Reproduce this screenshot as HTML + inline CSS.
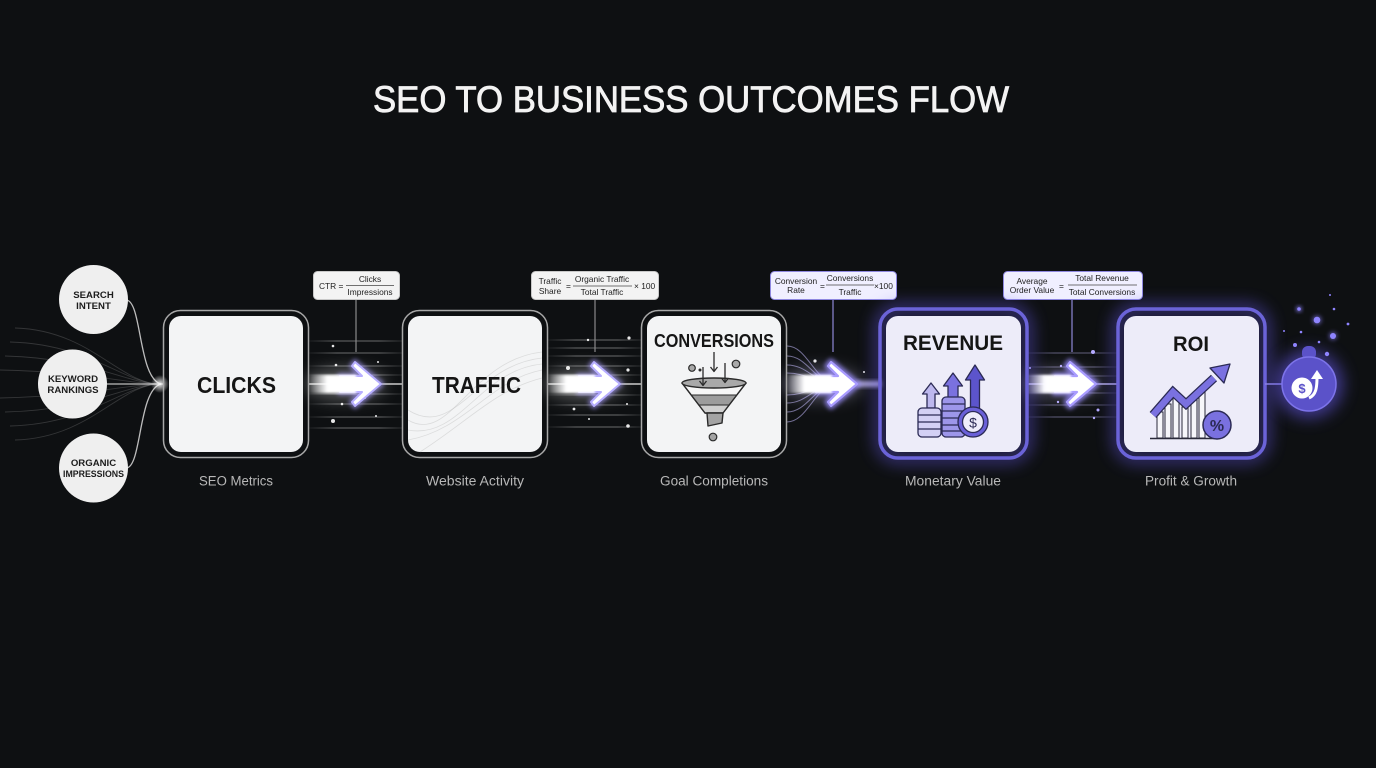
<!DOCTYPE html>
<html><head><meta charset="utf-8">
<style>
html,body{margin:0;padding:0;background:#0e1012;width:1376px;height:768px;overflow:hidden}
svg{display:block}
text{font-family:"Liberation Sans",Arial,sans-serif}
</style></head><body>
<svg width="1376" height="768" viewBox="0 0 1376 768" xmlns="http://www.w3.org/2000/svg">
<defs>
 <linearGradient id="lf" x1="0" x2="1" y1="0" y2="0">
  <stop offset="0" stop-color="#fff" stop-opacity="0.05"/>
  <stop offset="0.3" stop-color="#fff" stop-opacity="0.38"/>
  <stop offset="0.75" stop-color="#fff" stop-opacity="0.38"/>
  <stop offset="1" stop-color="#fff" stop-opacity="0.1"/>
 </linearGradient>
 <linearGradient id="lp" x1="0" x2="1" y1="0" y2="0">
  <stop offset="0" stop-color="#b8b0ff" stop-opacity="0.1"/>
  <stop offset="0.3" stop-color="#c8c0ff" stop-opacity="0.45"/>
  <stop offset="0.75" stop-color="#c8c0ff" stop-opacity="0.45"/>
  <stop offset="1" stop-color="#b8b0ff" stop-opacity="0.1"/>
 </linearGradient>
 <linearGradient id="fl" x1="0" x2="1" y1="0" y2="0">
  <stop offset="0" stop-color="#fff" stop-opacity="0"/>
  <stop offset="0.4" stop-color="#fff" stop-opacity="1"/>
  <stop offset="1" stop-color="#fff" stop-opacity="1"/>
 </linearGradient>
 <radialGradient id="rg">
  <stop offset="0" stop-color="#fff" stop-opacity="0.9"/>
  <stop offset="1" stop-color="#fff" stop-opacity="0"/>
 </radialGradient>
 <filter id="b1" x="-50%" y="-50%" width="200%" height="200%"><feGaussianBlur stdDeviation="1"/></filter>
 <filter id="b2" x="-50%" y="-50%" width="200%" height="200%"><feGaussianBlur stdDeviation="2"/></filter>
 <filter id="b8" x="-50%" y="-50%" width="200%" height="200%"><feGaussianBlur stdDeviation="8"/></filter>
</defs>

<rect width="1376" height="768" fill="#0e1012"/>

<!-- Title -->
<text x="373" y="112" font-size="37" fill="#f3f3f3" stroke="#f3f3f3" stroke-width="0.8" textLength="636" lengthAdjust="spacingAndGlyphs">SEO TO BUSINESS OUTCOMES FLOW</text>

<!-- Left faint converging lines -->
<g fill="none" stroke="#cfcfcf" stroke-opacity="0.2" stroke-width="0.9">
 <path d="M15,328 C90,330 120,384 160,384"/>
 <path d="M10,342 C90,344 125,384 160,384"/>
 <path d="M5,356 C90,358 128,384 160,384"/>
 <path d="M0,370 C90,372 130,384 160,384"/>
 <path d="M0,398 C90,396 130,384 160,384"/>
 <path d="M5,412 C90,410 128,384 160,384"/>
 <path d="M10,426 C90,424 125,384 160,384"/>
 <path d="M15,440 C90,438 120,384 160,384"/>
</g>
<!-- circle connectors -->
<g fill="none" stroke="#bdbdbd" stroke-width="1.3">
 <path d="M126,300 C142,300 138,378 161,384"/>
 <path d="M126,468 C142,468 138,390 161,384"/>
 <path d="M107,384 L164,384"/>
</g>
<circle cx="160" cy="384" r="9" fill="url(#rg)"/>

<!-- Left circles -->
<g fill="#efefef">
 <circle cx="93.5" cy="299.5" r="34.5"/>
 <circle cx="72.5" cy="384" r="34.5"/>
 <circle cx="93.5" cy="468" r="34.5"/>
</g>
<g font-size="9.6" font-weight="bold" fill="#1c1c1c" text-anchor="middle">
 <text x="93.5" y="298">SEARCH</text>
 <text x="93.5" y="309">INTENT</text>
 <text x="73" y="382">KEYWORD</text>
 <text x="73" y="393">RANKINGS</text>
 <text x="93.5" y="466">ORGANIC</text>
</g>
<text x="63" y="477" font-size="9.6" font-weight="bold" fill="#1c1c1c" textLength="61" lengthAdjust="spacingAndGlyphs">IMPRESSIONS</text>

<!-- Gap 1 streak lines (309-402) -->
<g>
 <rect x="309" y="340.5" width="93" height="1" fill="url(#lf)"/>
 <rect x="309" y="352.5" width="93" height="1" fill="url(#lf)"/>
 <rect x="309" y="365.5" width="93" height="1" fill="url(#lf)"/>
 <rect x="309" y="374.5" width="93" height="1" fill="url(#lf)"/>
 <rect x="309" y="393.5" width="93" height="1" fill="url(#lf)"/>
 <rect x="309" y="403.5" width="93" height="1" fill="url(#lf)"/>
 <rect x="309" y="416.5" width="93" height="1" fill="url(#lf)"/>
 <rect x="309" y="427.5" width="93" height="1" fill="url(#lf)"/>
 <rect x="309" y="383.3" width="93" height="1.4" fill="#d8d8d8"/>
</g>
<!-- Gap 2 streak lines (548-641) -->
<g>
 <rect x="548" y="339.5" width="93" height="1" fill="url(#lf)"/>
 <rect x="548" y="347.5" width="93" height="1" fill="url(#lf)"/>
 <rect x="548" y="355.5" width="93" height="1" fill="url(#lf)"/>
 <rect x="548" y="365.5" width="93" height="1" fill="url(#lf)"/>
 <rect x="548" y="374.5" width="93" height="1" fill="url(#lf)"/>
 <rect x="548" y="394.5" width="93" height="1" fill="url(#lf)"/>
 <rect x="548" y="404.5" width="93" height="1" fill="url(#lf)"/>
 <rect x="548" y="414.5" width="93" height="1" fill="url(#lf)"/>
 <rect x="548" y="426.5" width="93" height="1" fill="url(#lf)"/>
 <rect x="548" y="383.3" width="93" height="1.4" fill="#d8d8d8"/>
</g>
<!-- Gap 3 fan (787-879) -->
<g fill="none" stroke="#c4bbff" stroke-opacity="0.55" stroke-width="1">
 <path d="M787,346 C808,346 815,384 838,384"/>
 <path d="M787,356 C808,356 815,384 838,384"/>
 <path d="M787,365 C808,365 815,384 838,384"/>
 <path d="M787,373 C808,373 815,384 838,384"/>
 <path d="M787,395 C808,395 815,384 838,384"/>
 <path d="M787,403 C808,403 815,384 838,384"/>
 <path d="M787,412 C808,412 815,384 838,384"/>
 <path d="M787,422 C808,422 815,384 838,384"/>
</g>
<!-- Gap 4 lines (1027-1117) -->
<g>
 <rect x="1027" y="352.5" width="90" height="1" fill="url(#lp)"/>
 <rect x="1027" y="366.5" width="90" height="1" fill="url(#lp)"/>
 <rect x="1027" y="375.5" width="90" height="1" fill="url(#lp)"/>
 <rect x="1027" y="392.5" width="90" height="1" fill="url(#lp)"/>
 <rect x="1027" y="404.5" width="90" height="1" fill="url(#lp)"/>
 <rect x="1027" y="416.5" width="90" height="1" fill="url(#lp)"/>
 <rect x="1027" y="383.3" width="90" height="1.4" fill="#b9b2ee"/>
</g>

<!-- sparkle dots -->
<g fill="#fff" opacity="0.9">
 <circle cx="333" cy="346" r="1.3"/><circle cx="336" cy="365" r="1.3"/><circle cx="342" cy="404" r="1.3"/>
 <circle cx="333" cy="421" r="2"/><circle cx="378" cy="362" r="1"/><circle cx="376" cy="416" r="1"/>
 <circle cx="365" cy="398" r="1"/>
 <circle cx="568" cy="368" r="2"/><circle cx="588" cy="340" r="1.2"/><circle cx="574" cy="409" r="1.4"/>
 <circle cx="629" cy="338" r="1.6"/><circle cx="628" cy="370" r="1.6"/><circle cx="628" cy="426" r="1.8"/>
 <circle cx="589" cy="419" r="1"/><circle cx="627" cy="404" r="1"/>
 <circle cx="815" cy="361" r="1.6"/><circle cx="864" cy="372" r="1"/>
</g>
<g fill="#b5aaff">
 <circle cx="1093" cy="352" r="2"/><circle cx="1061" cy="366" r="1.2"/><circle cx="1058" cy="402" r="1.2"/>
 <circle cx="1098" cy="410" r="1.5"/><circle cx="1094" cy="418" r="1.2"/><circle cx="1030" cy="368" r="1"/>
</g>

<!-- Glow halos -->
<g>
 <ellipse cx="345" cy="384" rx="40" ry="16" fill="#fff" opacity="0.3" filter="url(#b8)"/>
 <ellipse cx="584" cy="384" rx="40" ry="16" fill="#fff" opacity="0.3" filter="url(#b8)"/>
 <ellipse cx="822" cy="384" rx="40" ry="16" fill="#d8d0ff" opacity="0.35" filter="url(#b8)"/>
 <rect x="855" y="381" width="26" height="6" fill="#c8c0ff" opacity="0.8" filter="url(#b2)"/>
 <ellipse cx="1062" cy="384" rx="40" ry="16" fill="#d8d0ff" opacity="0.28" filter="url(#b8)"/>
</g>

<!-- Arrows -->
<g stroke-linejoin="round">
 <polygon points="340,376 362,376 352,366 355,362 381,384 355,406 352,402 362,392 340,392" fill="none" stroke="#a99cff" stroke-width="6" opacity="0.6" filter="url(#b2)"/>
 <polygon points="340,376 362,376 352,366 355,362 381,384 355,406 352,402 362,392 340,392" fill="#fff" stroke="#b7aeff" stroke-width="2"/>
 <rect x="308" y="374.8" width="48" height="18.4" fill="url(#fl)" filter="url(#b1)"/>

 <polygon points="579,376 601,376 591,366 594,362 620,384 594,406 591,402 601,392 579,392" fill="none" stroke="#a99cff" stroke-width="6" opacity="0.6" filter="url(#b2)"/>
 <polygon points="579,376 601,376 591,366 594,362 620,384 594,406 591,402 601,392 579,392" fill="#fff" stroke="#b7aeff" stroke-width="2"/>
 <rect x="547" y="374.8" width="48" height="18.4" fill="url(#fl)" filter="url(#b1)"/>

 <polygon points="816,376 838,376 828,366 831,362 857,384 831,406 828,402 838,392 816,392" fill="none" stroke="#9a8cff" stroke-width="7" opacity="0.75" filter="url(#b2)"/>
 <polygon points="816,376 838,376 828,366 831,362 857,384 831,406 828,402 838,392 816,392" fill="#fff" stroke="#a99cff" stroke-width="2.2"/>
 <rect x="786" y="374.8" width="46" height="18.4" fill="url(#fl)" filter="url(#b1)"/>

 <polygon points="1055,376 1077,376 1067,366 1070,362 1096,384 1070,406 1067,402 1077,392 1055,392" fill="none" stroke="#9a8cff" stroke-width="7" opacity="0.75" filter="url(#b2)"/>
 <polygon points="1055,376 1077,376 1067,366 1070,362 1096,384 1070,406 1067,402 1077,392 1055,392" fill="#fff" stroke="#a99cff" stroke-width="2.2"/>
 <rect x="1026" y="374.8" width="45" height="18.4" fill="url(#fl)" filter="url(#b1)"/>
</g>

<!-- Formula connector lines -->
<g stroke="#8a8a8a" stroke-width="1.2">
 <line x1="356" y1="299" x2="356" y2="352"/>
 <line x1="595" y1="299" x2="595" y2="352"/>
 <line x1="833" y1="299" x2="833" y2="352" stroke="#8f88d8"/>
 <line x1="1072" y1="299" x2="1072" y2="352" stroke="#8f88d8"/>
</g>

<!-- Formula boxes -->
<g font-size="8.4" fill="#1e1e1e">
 <rect x="313.5" y="271.5" width="86" height="28" rx="4" fill="#f3f3f3" stroke="#c8c8c8"/>
 <text x="319" y="289">CTR =</text>
 <text x="370" y="282" text-anchor="middle">Clicks</text>
 <line x1="346" y1="285.5" x2="394" y2="285.5" stroke="#444" stroke-width="0.8"/>
 <text x="370" y="295" text-anchor="middle">Impressions</text>

 <rect x="531.5" y="271.5" width="127" height="28" rx="4" fill="#f3f3f3" stroke="#c8c8c8"/>
 <text x="550" y="284" text-anchor="middle">Traffic</text>
 <text x="550" y="294" text-anchor="middle">Share</text>
 <text x="566" y="289">=</text>
 <text x="602" y="282" text-anchor="middle">Organic Traffic</text>
 <line x1="573" y1="286" x2="632" y2="286" stroke="#444" stroke-width="0.8"/>
 <text x="602" y="295" text-anchor="middle">Total Traffic</text>
 <text x="634" y="289">× 100</text>

 <rect x="770.5" y="271.5" width="126" height="28" rx="4" fill="#f0efff" stroke="#8f88e0"/>
 <text x="796" y="284" text-anchor="middle">Conversion</text>
 <text x="796" y="293" text-anchor="middle">Rate</text>
 <text x="820" y="289">=</text>
 <text x="850" y="281" text-anchor="middle">Conversions</text>
 <line x1="826" y1="285" x2="874" y2="285" stroke="#444" stroke-width="0.8"/>
 <text x="850" y="295" text-anchor="middle">Traffic</text>
 <text x="874" y="289">×100</text>

 <rect x="1003.5" y="271.5" width="139" height="28" rx="4" fill="#f0efff" stroke="#8f88e0"/>
 <text x="1032" y="284" text-anchor="middle">Average</text>
 <text x="1032" y="293" text-anchor="middle">Order Value</text>
 <text x="1059" y="289">=</text>
 <text x="1102" y="281" text-anchor="middle">Total Revenue</text>
 <line x1="1068" y1="285" x2="1137" y2="285" stroke="#444" stroke-width="0.8"/>
 <text x="1102" y="295" text-anchor="middle">Total Conversions</text>
</g>

<!-- Boxes -->
<g>
 <rect x="163.5" y="310.5" width="145" height="147" rx="17" fill="none" stroke="#a8a8a8" stroke-width="1.5"/>
 <rect x="169" y="316" width="134" height="136" rx="12" fill="#f3f4f5"/>
 <rect x="402.5" y="310.5" width="145" height="147" rx="17" fill="none" stroke="#a8a8a8" stroke-width="1.5"/>
 <rect x="408" y="316" width="134" height="136" rx="12" fill="#f3f4f5"/>
 <g fill="none" stroke="#b0b0b0" stroke-opacity="0.35" stroke-width="0.8">
  <path d="M408,420 C450,445 470,360 542,352"/>
  <path d="M408,410 C455,440 475,365 542,358"/>
  <path d="M408,430 C460,440 480,370 542,364"/>
  <path d="M408,440 C465,430 490,380 542,370"/>
  <path d="M420,452 C470,420 495,390 542,378"/>
 </g>
 <rect x="641.5" y="310.5" width="145" height="147" rx="17" fill="none" stroke="#a8a8a8" stroke-width="1.5"/>
 <rect x="647" y="316" width="134" height="136" rx="12" fill="#f3f4f5"/>

 <rect x="880" y="309" width="147" height="149" rx="18" fill="none" stroke="#6a5cf5" stroke-width="10" opacity="0.55" filter="url(#b8)"/>
 <rect x="880" y="309" width="147" height="149" rx="18" fill="none" stroke="#6b63d8" stroke-width="3.5"/>
 <rect x="886" y="316" width="135" height="136" rx="12" fill="#edecf9"/>

 <rect x="1118" y="309" width="147" height="149" rx="18" fill="none" stroke="#6a5cf5" stroke-width="10" opacity="0.55" filter="url(#b8)"/>
 <rect x="1118" y="309" width="147" height="149" rx="18" fill="none" stroke="#6b63d8" stroke-width="3.5"/>
 <rect x="1124" y="316" width="135" height="136" rx="12" fill="#edecf9"/>
</g>

<!-- Box titles -->
<g font-weight="bold" fill="#151515">
 <text x="197" y="393" font-size="23" textLength="79" lengthAdjust="spacingAndGlyphs">CLICKS</text>
 <text x="432" y="393" font-size="23" textLength="89" lengthAdjust="spacingAndGlyphs">TRAFFIC</text>
 <text x="654" y="347" font-size="18" textLength="120" lengthAdjust="spacingAndGlyphs">CONVERSIONS</text>
 <text x="903" y="350" font-size="21" textLength="100" lengthAdjust="spacingAndGlyphs">REVENUE</text>
 <text x="1173" y="351" font-size="21" textLength="36" lengthAdjust="spacingAndGlyphs">ROI</text>
</g>

<!-- Subtitles -->
<g font-size="13.5" fill="#b8b8b8">
 <text x="199" y="485.5" textLength="74" lengthAdjust="spacingAndGlyphs">SEO Metrics</text>
 <text x="426" y="485.5" textLength="98" lengthAdjust="spacingAndGlyphs">Website Activity</text>
 <text x="660" y="485.5" textLength="108" lengthAdjust="spacingAndGlyphs">Goal Completions</text>
 <text x="905" y="485.5" textLength="96" lengthAdjust="spacingAndGlyphs">Monetary Value</text>
 <text x="1145" y="485.5" textLength="92" lengthAdjust="spacingAndGlyphs">Profit &amp; Growth</text>
</g>

<!-- Funnel icon -->
<g stroke="#2a2a2a" stroke-width="1.4" stroke-linejoin="round">
 <polygon points="682,383 746,383 723,413 705,413" fill="#f6f6f6"/>
 <polygon points="691.2,395 736.8,395 729.1,405 698.9,405" fill="#9c9c9c" stroke="none"/>
 <polygon points="698.9,405 729.1,405 723,413 705,413" fill="#cfcfcf" stroke="none"/>
 <polygon points="682,383 746,383 723,413 705,413" fill="none"/>
 <line x1="691.2" y1="395" x2="736.8" y2="395" stroke-width="1"/>
 <line x1="698.9" y1="405" x2="729.1" y2="405" stroke-width="1"/>
 <ellipse cx="714" cy="383" rx="32" ry="5" fill="#a9a9a9"/>
 <polygon points="707,413 723,413 722,423 708,426" fill="#a3a3a3"/>
 <circle cx="713" cy="437" r="3.8" fill="#a3a3a3" stroke-width="1.2"/>
 <circle cx="692" cy="368" r="3.3" fill="#a9a9a9" stroke-width="1.2"/>
 <circle cx="736" cy="364" r="3.8" fill="#a9a9a9" stroke-width="1.2"/>
 <circle cx="700" cy="370" r="0.8" fill="#333"/>
 <g stroke-width="1.3" fill="none">
  <line x1="714" y1="352" x2="714" y2="371"/><polyline points="710.5,367 714,371.5 717.5,367"/>
  <line x1="703" y1="367" x2="703" y2="385"/><polyline points="699.5,381 703,385.5 706.5,381"/>
  <line x1="725" y1="363" x2="725" y2="382"/><polyline points="721.5,378 725,382.5 728.5,378"/>
 </g>
</g>

<!-- Revenue icon -->
<g stroke="#2b2a55" stroke-width="1.3" stroke-linejoin="round">
 <polygon points="931,383 939.5,394 935,394 935,408 927,408 927,394 922.5,394" fill="#bdb8ee"/>
 <rect x="918" y="408" width="23" height="29" rx="4" fill="#d3d0f4"/>
 <g fill="none"><line x1="918" y1="415" x2="941" y2="415"/><line x1="918" y1="422" x2="941" y2="422"/><line x1="918" y1="429" x2="941" y2="429"/></g>
 <polygon points="953,373 962.5,386 958,386 958,398 948,398 948,386 943.5,386" fill="#7a71df"/>
 <rect x="942" y="397" width="23" height="40" rx="4" fill="#9d96ea"/>
 <g fill="none"><line x1="942" y1="404" x2="965" y2="404"/><line x1="942" y1="411" x2="965" y2="411"/><line x1="942" y1="418" x2="965" y2="418"/><line x1="942" y1="425" x2="965" y2="425"/><line x1="942" y1="431" x2="965" y2="431"/></g>
 <polygon points="975,365 984.5,380 979.5,380 979.5,410 970.5,410 970.5,380 965.5,380" fill="#5c54cc"/>
 <circle cx="973" cy="422" r="15" fill="#6a60d8"/>
 <circle cx="973" cy="422" r="10.5" fill="#eeedfb"/>
</g>
<text x="973" y="427.5" font-size="14" fill="#2b2a55" text-anchor="middle">$</text>

<!-- ROI icon -->
<g stroke="#2a2a3a" stroke-width="1">
 <rect x="1157" y="412" width="6" height="26" fill="#f6f6fa"/>
 <rect x="1165" y="404" width="6" height="34" fill="#f6f6fa"/>
 <rect x="1173" y="398" width="6" height="40" fill="#f6f6fa"/>
 <rect x="1182" y="407" width="6" height="31" fill="#f6f6fa"/>
 <rect x="1191" y="398" width="6" height="40" fill="#f6f6fa"/>
 <rect x="1199" y="390" width="6" height="48" fill="#f6f6fa"/>
 <line x1="1150" y1="438.5" x2="1216" y2="438.5" stroke-width="1.6"/>
</g>
<polyline points="1153,415 1173,392 1186,404 1214,378" fill="none" stroke="#2b2a55" stroke-width="9" stroke-linejoin="miter" stroke-linecap="butt"/>
<polyline points="1153,415 1173,392 1186,404 1214,378" fill="none" stroke="#7a71e0" stroke-width="6.5" stroke-linejoin="miter"/>
<polygon points="1230,364 1224,383 1210,368" fill="#7a71e0" stroke="#2b2a55" stroke-width="1.3" stroke-linejoin="round"/>
<circle cx="1217" cy="425" r="14" fill="#7a71e0" stroke="#2b2a55" stroke-width="1.5"/>
<text x="1217" y="431" font-size="16" font-weight="bold" fill="#2b2a55" text-anchor="middle">%</text>

<!-- ROI to money circle -->
<line x1="1265" y1="384" x2="1283" y2="384" stroke="#8a82e0" stroke-width="1.4"/>

<!-- Money circle -->
<circle cx="1309" cy="384" r="34" fill="#6a5cf5" opacity="0.55" filter="url(#b8)"/>
<rect x="1302" y="346" width="14" height="14" rx="6" fill="#5b52c9"/>
<circle cx="1309" cy="384" r="27" fill="#5b52c9" stroke="#7d74ea" stroke-width="1.5"/>
<circle cx="1302" cy="388" r="10.5" fill="#fff"/>
<text x="1302" y="393" font-size="13" font-weight="bold" fill="#5b52c9" text-anchor="middle">$</text>
<path d="M1309,398 C1316,395 1317,388 1317,377" fill="none" stroke="#fff" stroke-width="3"/>
<polygon points="1317,370 1323,379 1311,379" fill="#fff"/>

<!-- Floating dots -->
<g fill="#8f84ff">
 <circle cx="1299" cy="309" r="2.6" filter="url(#b2)"/><circle cx="1299" cy="309" r="1.8"/>
 <circle cx="1317" cy="320" r="4.5" opacity="0.6" filter="url(#b2)"/><circle cx="1317" cy="320" r="3.3"/>
 <circle cx="1333" cy="336" r="4" opacity="0.6" filter="url(#b2)"/><circle cx="1333" cy="336" r="3"/>
 <circle cx="1295" cy="345" r="2"/><circle cx="1327" cy="354" r="2.2"/>
 <circle cx="1301" cy="332" r="1.3"/><circle cx="1284" cy="331" r="1"/>
 <circle cx="1319" cy="342" r="1.3"/><circle cx="1334" cy="309" r="1.3"/>
 <circle cx="1348" cy="324" r="1.4"/><circle cx="1330" cy="295" r="1"/>
</g>
</svg>
</body></html>
